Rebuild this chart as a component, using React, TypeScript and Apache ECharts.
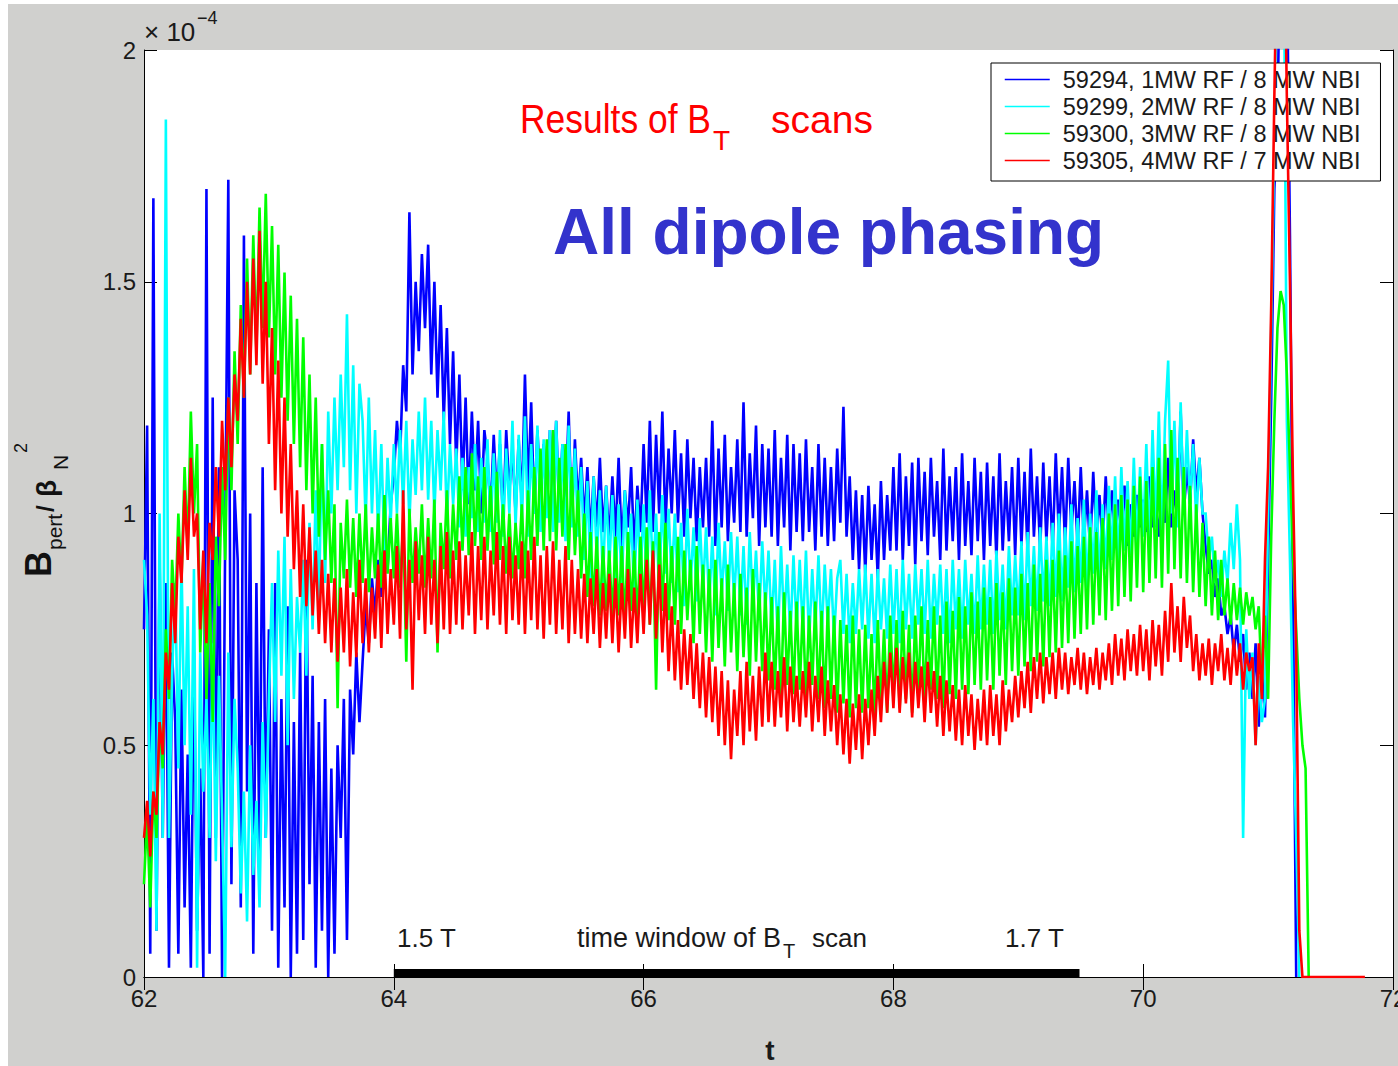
import React, { useEffect, useRef } from "react";
import * as echarts from "echarts";

// ---------- data (values in units of 1e-4) ----------
const T_START = 62;
const T_STEP = 0.025;
const xTicks = [62, 64, 66, 68, 70, 72];
const yTicks = [0, 0.5, 1, 1.5, 2];
const seriesNames = [
  "59294, 1MW RF / 8 MW NBI",
  "59299, 2MW RF / 8 MW NBI",
  "59300, 3MW RF / 8 MW NBI",
  "59305, 4MW RF / 7 MW NBI",
];
const seriesColors = ["#0000ff", "#00ffff", "#00ff00", "#ff0000"];
const scanWindow = [64, 69.49];

const blue59294 = [
  0.75,1.19,0.05,1.68,0.1,0.9,0.3,0.85,0.02,0.7,
  0.55,0.05,0.62,0.15,0.48,0.02,0.7,0.1,0.45,0.0,
  1.7,0.05,1.25,0.3,1.1,0.0,0.95,1.72,0.2,1.05,
  0.9,0.15,1.6,0.4,1.0,0.05,0.85,0.25,1.1,0.3,
  0.75,0.1,0.85,0.02,0.6,0.15,0.8,0.0,0.55,0.05,
  0.7,0.08,0.9,0.2,0.65,0.02,0.55,0.1,0.6,0.0,
  0.45,0.05,0.5,0.3,0.6,0.08,0.62,0.48,0.7,0.55,
  0.68,0.8,0.72,0.86,0.78,0.9,0.82,0.95,0.88,1.02,
  1.08,1.2,1.12,1.32,1.22,1.65,1.3,1.5,1.35,1.56,
  1.4,1.58,1.3,1.5,1.25,1.45,1.2,1.4,1.15,1.35,
  1.1,1.3,1.05,1.25,1.02,1.22,1.05,1.2,1.0,1.18,
  1.12,1.0,1.17,1.03,1.15,0.98,1.18,1.05,1.14,1.0,
  1.16,1.02,1.3,1.05,1.24,1.0,1.18,1.04,1.15,1.0,
  1.18,1.03,1.2,1.0,1.15,1.02,1.22,0.98,1.16,1.02,
  1.12,0.98,1.1,0.95,1.08,0.97,1.12,0.96,1.06,0.94,
  1.08,0.95,1.12,0.93,1.05,0.97,1.1,0.92,1.06,0.96,
  1.15,0.98,1.2,0.96,1.17,1.0,1.22,0.97,1.14,1.0,
  1.18,0.98,1.13,0.95,1.16,0.99,1.12,0.94,1.1,0.97,
  1.12,0.95,1.2,0.93,1.14,0.97,1.17,0.94,1.1,0.98,
  1.16,0.96,1.24,0.95,1.13,0.99,1.19,0.93,1.15,0.97,
  1.14,0.95,1.18,0.93,1.12,0.97,1.17,0.92,1.15,0.96,
  1.13,0.94,1.16,0.96,1.1,0.92,1.15,0.95,1.12,0.93,
  1.1,0.94,1.14,0.98,1.23,0.95,1.08,0.9,1.05,0.88,
  1.04,0.87,1.06,0.9,1.02,0.86,1.07,0.9,1.04,0.92,
  1.1,0.92,1.13,0.9,1.08,0.93,1.11,0.89,1.12,0.94,
  1.09,0.91,1.12,0.95,1.07,0.9,1.14,0.92,1.08,0.94,
  1.1,0.9,1.13,0.93,1.07,0.91,1.12,0.94,1.09,0.9,
  1.11,0.93,1.08,0.9,1.13,0.92,1.07,0.94,1.1,0.91,
  1.12,0.93,1.09,0.91,1.14,0.95,1.08,0.92,1.11,0.94,
  1.08,0.92,1.13,0.95,1.1,0.93,1.12,0.96,1.07,0.93,
  1.1,0.94,1.05,0.92,1.09,0.95,1.04,0.93,1.08,0.96,
  1.05,0.94,1.03,0.96,1.06,0.93,1.02,0.95,1.04,0.97,
  1.03,0.96,1.08,0.97,1.02,0.95,1.06,0.98,1.12,0.97,
  1.05,0.98,1.22,1.0,1.1,1.02,1.16,1.04,1.12,1.0,
  0.93,0.87,0.9,0.82,0.86,0.78,0.8,0.74,0.78,0.7,
  0.76,0.68,0.74,0.62,0.7,0.6,0.72,0.54,0.66,0.56,
  0.9,1.25,1.7,1.85,2.3,2.4,2.2,1.6,0.8,0.0,
];

const cyan59299 = [
  0.9,0.78,0.35,0.6,0.1,1.0,0.3,1.85,0.3,0.65,
  0.85,0.45,0.9,0.5,0.8,0.35,0.88,0.02,0.7,0.4,
  0.6,0.3,0.72,0.25,0.65,0.35,0.0,0.7,0.28,0.6,
  0.45,0.18,0.4,0.12,0.5,0.22,0.38,0.15,0.55,0.3,
  0.6,0.85,0.55,0.92,0.65,0.95,0.5,0.88,0.6,0.82,
  0.7,0.9,0.65,0.98,0.75,1.05,0.8,1.15,0.85,1.22,
  1.0,1.25,1.05,1.3,1.1,1.43,1.05,1.32,1.0,1.28,
  1.2,0.98,1.25,1.0,1.18,0.95,1.15,0.92,1.12,0.98,
  1.15,1.0,1.18,1.02,1.2,0.98,1.16,1.04,1.22,1.05,
  1.25,1.03,1.2,1.0,1.18,1.05,1.22,0.98,1.15,1.02,
  1.14,0.97,1.12,0.95,1.1,0.99,1.15,0.96,1.12,0.98,
  1.16,0.96,1.13,0.98,1.18,0.95,1.14,1.0,1.2,0.97,
  1.17,0.98,1.21,0.95,1.15,1.0,1.19,0.96,1.16,0.99,
  1.18,0.96,1.2,0.98,1.15,0.94,1.19,0.97,1.14,0.95,
  1.1,0.9,1.07,0.86,1.08,0.9,1.05,0.85,1.06,0.88,
  1.04,0.85,1.02,0.83,1.05,0.88,1.0,0.82,1.03,0.86,
  1.02,0.84,1.05,0.86,1.0,0.83,1.04,0.87,1.01,0.85,
  1.0,0.83,0.98,0.8,1.01,0.84,0.97,0.81,0.99,0.83,
  0.97,0.8,0.95,0.78,0.98,0.82,0.94,0.79,0.96,0.81,
  0.95,0.78,0.93,0.76,0.96,0.8,0.92,0.77,0.94,0.79,
  0.92,0.75,0.9,0.72,0.93,0.76,0.89,0.73,0.91,0.75,
  0.9,0.74,0.92,0.72,0.88,0.75,0.91,0.73,0.89,0.76,
  0.88,0.73,0.86,0.9,0.74,0.87,0.72,0.85,0.74,0.88,
  0.75,0.89,0.73,0.87,0.72,0.88,0.75,0.86,0.73,0.89,
  0.74,0.88,0.72,0.9,0.75,0.87,0.73,0.89,0.76,0.88,
  0.74,0.9,0.73,0.87,0.76,0.89,0.74,0.88,0.72,0.9,
  0.75,0.88,0.73,0.9,0.76,0.87,0.74,0.91,0.75,0.89,
  0.76,0.9,0.74,0.92,0.77,0.89,0.75,0.93,0.78,0.91,
  0.78,0.94,0.77,0.96,0.8,0.93,0.79,0.97,0.81,0.95,
  0.8,0.98,0.82,1.0,0.81,0.97,0.84,1.02,0.83,0.99,
  0.85,1.03,0.84,1.0,0.87,1.05,0.86,1.02,0.88,1.06,
  0.9,1.08,0.89,1.1,0.92,1.07,0.91,1.12,0.93,1.1,
  0.95,1.15,0.93,1.18,0.97,1.22,0.95,1.2,1.33,1.0,
  1.2,0.97,1.24,1.0,1.18,1.02,1.15,0.98,1.12,1.0,
  1.0,0.9,0.95,0.85,0.9,0.82,0.92,0.85,0.98,0.88,
  1.02,0.9,0.3,0.75,0.6,0.7,0.5,0.65,0.55,0.6,
  1.0,1.4,1.8,2.3,2.5,2.3,1.2,0.9,0.55,0.3,
  0.0,
];

const green59300 = [
  0.2,0.35,0.15,0.4,0.3,0.55,0.45,0.75,0.6,0.9,
  0.78,1.0,0.85,1.1,0.92,1.22,1.0,1.15,0.7,0.9,
  0.6,0.85,0.55,0.95,0.8,1.1,0.9,1.25,1.05,1.35,
  1.15,1.45,1.25,1.55,1.3,1.6,1.35,1.66,1.4,1.69,
  1.38,1.62,1.3,1.58,1.25,1.52,1.2,1.47,1.15,1.42,
  1.1,1.38,1.05,1.3,1.0,1.25,0.95,1.15,0.9,1.05,
  0.85,1.02,0.58,0.98,0.86,1.03,0.84,0.99,0.82,1.0,
  0.85,1.02,0.83,0.97,0.86,1.0,0.84,1.04,0.87,0.99,
  0.86,1.0,0.84,0.98,0.68,1.01,0.85,0.97,0.87,1.02,
  0.84,0.99,0.86,1.03,0.7,0.98,0.88,1.05,0.86,1.02,
  0.9,1.08,0.92,1.1,0.91,1.13,0.93,1.08,0.9,1.1,
  0.92,1.06,0.89,1.09,0.9,1.02,0.87,1.0,0.86,0.98,
  0.88,1.02,0.86,1.05,0.9,1.1,0.93,1.14,0.92,1.16,
  0.94,1.18,0.92,1.12,0.95,1.15,0.9,1.1,0.91,1.05,
  0.86,1.0,0.82,0.96,0.8,0.95,0.78,0.93,0.79,0.92,
  0.77,0.95,0.78,0.93,0.76,0.96,0.79,0.92,0.77,0.95,
  0.78,0.97,0.76,0.94,0.62,0.96,0.79,0.98,0.77,0.93,
  0.76,0.95,0.74,0.92,0.77,0.9,0.72,0.93,0.74,0.89,
  0.7,0.88,0.68,0.9,0.71,0.86,0.67,0.89,0.7,0.85,
  0.66,0.87,0.69,0.84,0.65,0.88,0.68,0.85,0.66,0.83,
  0.64,0.82,0.62,0.8,0.6,0.83,0.63,0.79,0.61,0.81,
  0.62,0.8,0.6,0.78,0.63,0.81,0.6,0.79,0.58,0.8,
  0.6,0.78,0.57,0.77,0.59,0.76,0.56,0.78,0.58,0.75,
  0.57,0.76,0.58,0.74,0.56,0.77,0.59,0.75,0.57,0.78,
  0.6,0.77,0.58,0.79,0.6,0.76,0.57,0.78,0.61,0.8,
  0.59,0.77,0.62,0.8,0.6,0.78,0.58,0.81,0.61,0.79,
  0.6,0.82,0.62,0.8,0.61,0.83,0.63,0.81,0.62,0.84,
  0.64,0.82,0.62,0.85,0.65,0.83,0.63,0.86,0.66,0.84,
  0.65,0.87,0.67,0.85,0.66,0.89,0.68,0.87,0.67,0.9,
  0.69,0.9,0.7,0.92,0.71,0.91,0.72,0.94,0.73,0.93,
  0.74,0.95,0.75,0.97,0.76,0.96,0.78,0.99,0.77,1.0,
  0.79,1.02,0.8,1.04,0.82,1.03,0.81,1.06,0.84,1.08,
  0.83,1.07,0.85,1.1,0.86,1.12,0.84,1.15,0.87,1.18,
  0.88,1.12,0.86,1.1,0.85,1.06,0.83,1.02,0.82,0.98,
  0.8,0.95,0.78,0.92,0.77,0.9,0.78,0.86,0.76,0.85,
  0.77,0.84,0.76,0.83,0.78,0.82,0.75,0.8,0.63,0.78,
  0.6,0.95,1.2,1.4,1.48,1.45,1.3,1.1,0.9,0.75,
  0.6,0.5,0.45,0.0,
];

const red59305 = [
  0.3,0.38,0.26,0.4,0.35,0.55,0.48,0.7,0.62,0.85,
  0.72,0.95,0.85,1.05,0.9,1.12,0.95,1.0,0.75,0.92,
  0.72,0.98,0.9,1.1,0.95,1.2,1.05,1.25,1.1,1.3,
  1.2,1.42,1.25,1.5,1.3,1.55,1.32,1.61,1.28,1.5,
  1.15,1.4,1.05,1.33,1.0,1.25,0.95,1.15,0.88,1.05,
  0.82,1.02,0.8,0.97,0.78,0.92,0.74,0.9,0.72,0.87,
  0.7,0.86,0.68,0.84,0.7,0.88,0.67,0.83,0.69,0.9,
  0.72,0.86,0.7,0.84,0.73,0.89,0.71,0.92,0.74,0.88,
  0.76,0.93,0.73,1.05,0.75,0.9,0.62,0.94,0.77,0.91,
  0.74,0.95,0.76,0.9,0.72,0.93,0.75,0.96,0.74,0.92,
  0.76,0.94,0.75,0.91,0.78,0.96,0.74,0.93,0.77,0.95,
  0.75,0.92,0.78,0.96,0.76,0.93,0.74,0.95,0.77,0.91,
  0.76,0.94,0.74,0.92,0.77,0.95,0.75,0.91,0.73,0.93,
  0.76,0.94,0.74,0.9,0.75,0.93,0.72,0.9,0.74,0.88,
  0.73,0.87,0.72,0.86,0.74,0.88,0.71,0.85,0.73,0.87,
  0.72,0.86,0.7,0.85,0.73,0.88,0.71,0.84,0.72,0.87,
  0.74,0.9,0.76,0.92,0.73,0.89,0.7,0.85,0.66,0.8,
  0.64,0.77,0.62,0.75,0.63,0.74,0.6,0.72,0.58,0.7,
  0.56,0.69,0.55,0.67,0.52,0.66,0.5,0.64,0.47,0.62,
  0.52,0.66,0.5,0.68,0.53,0.65,0.51,0.67,0.54,0.7,
  0.55,0.68,0.54,0.66,0.56,0.69,0.53,0.67,0.55,0.65,
  0.54,0.66,0.56,0.68,0.53,0.65,0.55,0.67,0.52,0.64,
  0.53,0.63,0.5,0.61,0.48,0.6,0.46,0.59,0.49,0.61,
  0.47,0.6,0.5,0.62,0.52,0.65,0.55,0.68,0.57,0.7,
  0.58,0.71,0.57,0.69,0.59,0.7,0.56,0.68,0.58,0.67,
  0.55,0.68,0.57,0.66,0.54,0.65,0.52,0.64,0.53,0.63,
  0.51,0.62,0.5,0.63,0.52,0.61,0.49,0.6,0.51,0.62,
  0.5,0.63,0.52,0.61,0.5,0.64,0.53,0.62,0.55,0.65,
  0.56,0.66,0.58,0.68,0.57,0.69,0.6,0.7,0.59,0.69,
  0.61,0.7,0.6,0.71,0.62,0.7,0.61,0.69,0.63,0.71,
  0.62,0.7,0.61,0.69,0.63,0.71,0.62,0.7,0.64,0.72,
  0.63,0.74,0.65,0.73,0.64,0.75,0.66,0.74,0.65,0.76,
  0.66,0.75,0.64,0.77,0.67,0.76,0.65,0.79,0.68,0.85,
  0.7,0.8,0.68,0.82,0.71,0.78,0.66,0.74,0.64,0.72,
  0.65,0.73,0.63,0.72,0.66,0.74,0.64,0.71,0.63,0.73,
  0.65,0.72,0.62,0.7,0.66,0.69,0.5,0.72,0.6,0.9,
  1.1,1.45,1.9,2.3,2.5,2.4,1.9,1.5,1.05,0.7,
  0.1,0,0,0,0,0,0,0,0,0,
  0,0,0,0,0,0,0,0,0,0,
  0,0,
];

const allSeriesValues = [blue59294, cyan59299, green59300, red59305];

// ---------- helpers ----------
const FONT = "'Liberation Sans', Arial, Helvetica, sans-serif";
const OX = 8; // container page offset
const OY = 4;
const LINE_W = 2.6;

function toPoints(vals: number[]) {
  return vals.map((v, i) => [Number((T_START + i * T_STEP).toFixed(3)), v]);
}

function measure(text: string, size: number, weight = "normal") {
  const ctx = document.createElement("canvas").getContext("2d");
  if (!ctx) return text.length * size * 0.55;
  ctx.font = `${weight} ${size}px ${FONT}`;
  return ctx.measureText(text).width;
}

function txt(
  text: string,
  x: number,
  y: number,
  size: number,
  opts: { fill?: string; weight?: string; align?: string; scaleX?: number } = {}
) {
  const align = opts.align || "left";
  return {
    type: "text",
    x: x - OX,
    y: y - OY,
    scaleX: opts.scaleX || 1,
    silent: true,
    z: 20,
    style: {
      text,
      x: 0,
      y: 0,
      fill: opts.fill || "#1a1a1a",
      fontSize: size,
      fontFamily: FONT,
      fontWeight: opts.weight || "normal",
      align,
      textAlign: align,
      verticalAlign: "middle",
      textVerticalAlign: "middle",
    },
  };
}

function localTxt(text: string, x: number, y: number, size: number, weight = "normal") {
  return {
    type: "text",
    x,
    y,
    silent: true,
    style: {
      text,
      x: 0,
      y: 0,
      fill: "#111",
      fontSize: size,
      fontFamily: FONT,
      fontWeight: weight,
      align: "left",
      textAlign: "left",
      verticalAlign: "middle",
      textVerticalAlign: "middle",
    },
  };
}

function buildOption() {
  const axisLineStyle = { color: "#000", width: 1 };
  const commonX = {
    type: "value",
    min: xTicks[0],
    max: xTicks[xTicks.length - 1],
    interval: 2,
    splitLine: { show: false },
    axisLine: { show: true, lineStyle: axisLineStyle },
    axisTick: { show: true, inside: true, length: 13, lineStyle: axisLineStyle },
  };
  const commonY = {
    type: "value",
    min: yTicks[0],
    max: yTicks[yTicks.length - 1],
    interval: 0.5,
    splitLine: { show: false },
    axisLine: { show: true, lineStyle: axisLineStyle },
    axisTick: { show: true, inside: true, length: 13, lineStyle: axisLineStyle },
  };

  const resW = measure("Results of B", 40);
  const resScale = 191 / resW;
  const twW = measure("time window of B", 27);
  const twTx = 577 + twW + 2;

  const series: any[] = allSeriesValues.map((vals, i) => ({
    type: "line",
    name: seriesNames[i],
    data: toPoints(vals),
    symbol: "none",
    showSymbol: false,
    lineStyle: { color: seriesColors[i], width: LINE_W, join: "miter", miterLimit: 2 },
    itemStyle: { color: seriesColors[i] },
    emphasis: { disabled: true },
    z: 2 + i,
  }));
  series.push({
    type: "line",
    name: "scan window",
    data: [
      [scanWindow[0], 0.0086],
      [scanWindow[1], 0.0086],
    ],
    symbol: "none",
    showSymbol: false,
    lineStyle: { color: "#000", width: 8, cap: "butt" },
    emphasis: { disabled: true },
    silent: true,
    z: 10,
  });

  return {
    animation: false,
    backgroundColor: "#d0d0ce",
    grid: {
      left: 144 - OX,
      top: 50 - OY,
      width: 1249,
      height: 927,
      show: true,
      backgroundColor: "#ffffff",
      borderWidth: 0,
      containLabel: false,
      outerBoundsMode: "none",
    },
    legend: {
      show: true,
      data: seriesNames,
      orient: "vertical",
      left: 991 - OX,
      top: 63 - OY,
      padding: [3, 20, 7, 13],
      itemGap: 0,
      itemWidth: 45,
      itemHeight: 14,
      selectedMode: false,
      backgroundColor: "#ffffff",
      borderColor: "#000000",
      borderWidth: 1,
      borderRadius: 0,
      itemStyle: { opacity: 0 },
      lineStyle: { width: 1.5, opacity: 1 },
      textStyle: {
        fontSize: 23.5,
        color: "#1a1a1a",
        fontFamily: FONT,
        lineHeight: 27,
        padding: [0, 0, 0, 8],
      },
    },
    xAxis: [
      {
        ...commonX,
        position: "bottom",
        axisLabel: { show: true, fontSize: 24, color: "#1a1a1a", fontFamily: FONT, margin: 9 },
      },
      { ...commonX, position: "top", axisLabel: { show: false } },
    ],
    yAxis: [
      {
        ...commonY,
        position: "left",
        axisLabel: {
          show: true,
          fontSize: 24,
          color: "#1a1a1a",
          fontFamily: FONT,
          margin: 8,
          formatter: (v: number) => `${v}`,
        },
      },
      { ...commonY, position: "right", axisLabel: { show: false } },
    ],
    series,
    graphic: [
      txt("\u00d7 10", 144, 32, 26),
      txt("\u22124", 197, 18, 18),
      txt("Results of B", 520, 119, 40, { fill: "#ff0000", scaleX: resScale }),
      txt("T", 713, 140, 28, { fill: "#ff0000" }),
      txt("scans", 873, 119, 39, { fill: "#ff0000", align: "right" }),
      txt("All dipole phasing", 553, 232, 64, { fill: "#3333cc", weight: "bold" }),
      txt("1.5 T", 397, 938, 26),
      txt("time window of B", 577, 938, 27),
      txt("T", twTx, 951, 20),
      txt("scan", 867, 938, 26, { align: "right" }),
      txt("1.7 T", 1005, 938, 26),
      txt("t", 770, 1050, 28, { weight: "bold", align: "center" }),
      {
        type: "group",
        x: 38.5 - OX,
        y: 580 - OY,
        rotation: Math.PI / 2,
        silent: true,
        z: 20,
        children: [
          localTxt("B", 3, 0, 36, "bold"),
          localTxt("pert", 30, 15.5, 21),
          localTxt("/", 68, 7, 24, "bold"),
          localTxt("\u03b2", 83, 8, 28, "bold"),
          localTxt("N", 110, 22, 21),
          localTxt("2", 127, -18, 18),
        ],
      },
    ],
  };
}

export default function App() {
  const ref = useRef<HTMLDivElement>(null);
  useEffect(() => {
    if (!ref.current) return;
    const chart = echarts.init(ref.current, null, { renderer: "svg" });
    chart.setOption(buildOption() as any);
    return () => chart.dispose();
  }, []);
  return (
    <div
      ref={ref}
      style={{ position: "absolute", left: OX, top: OY, width: 1390, height: 1062 }}
    />
  );
}
